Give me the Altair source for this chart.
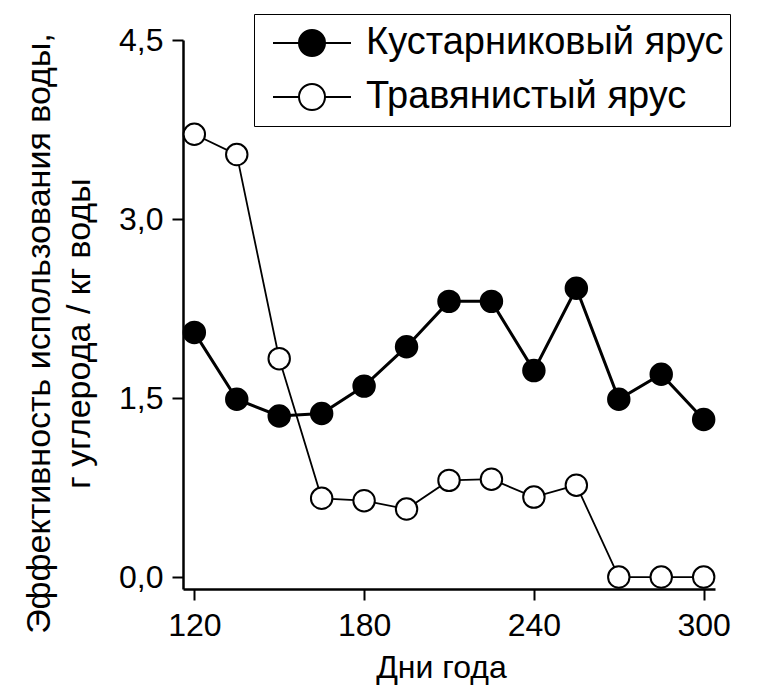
import altair as alt
import pandas as pd

days = [120, 135, 150, 165, 180, 195, 210, 225, 240, 255, 270, 285, 300]
shrub = [2.05, 1.49, 1.35, 1.37, 1.60, 1.93, 2.31, 2.31, 1.73, 2.42, 1.49, 1.70, 1.32]
herb = [3.71, 3.54, 1.83, 0.66, 0.64, 0.57, 0.81, 0.82, 0.67, 0.77, 0.0, 0.0, 0.0]
series_names = ["Кустарниковый ярус", "Травянистый ярус"]
x_ticks = [120, 180, 240, 300]
y_ticks = [0.0, 1.5, 3.0, 4.5]

rows = []
for d, v in zip(days, shrub):
    rows.append({"day": d, "value": v, "series": series_names[0]})
for d, v in zip(days, herb):
    rows.append({"day": d, "value": v, "series": series_names[1]})
df = pd.DataFrame(rows)

FONT = "Liberation Sans"

x_enc = alt.X(
    "day:Q",
    scale=alt.Scale(domain=[116, 304], nice=False, zero=False),
    axis=alt.Axis(
        values=x_ticks, title="Дни года", grid=False,
        tickSize=11, tickWidth=2, domainWidth=2.5, domainColor="black", tickColor="black",
        labelFontSize=32, labelFont=FONT, labelColor="black", labelPadding=10,
        titleFontSize=32, titleFont=FONT, titleFontWeight="normal", titleColor="black",
        titleX=258, titleY=88, titleBaseline="alphabetic",
    ),
)
y_enc = alt.Y(
    "value:Q",
    scale=alt.Scale(domain=[-0.1, 4.5], nice=False, zero=False),
    axis=alt.Axis(
        values=y_ticks, grid=False,
        labelExpr="replace(format(datum.value, '.1f'), '.', ',')",
        title=["Эффективность использования воды,", "г углерода / кг воды"],
        tickSize=11, tickWidth=2, domainWidth=2.5, domainColor="black", tickColor="black",
        labelFontSize=32, labelFont=FONT, labelColor="black", labelPadding=9,
        titleFontSize=34, titleFont=FONT, titleFontWeight="normal", titleColor="black",
        titleLineHeight=40, titleAngle=-90, titleAlign="center", titleBaseline="top",
        titleX=-161, titleY=293, titleLimit=800,
    ),
)

base = alt.Chart(df)

line_shrub = base.transform_filter(alt.datum.series == series_names[0]).mark_line(
    color="black", strokeWidth=3
).encode(x=x_enc, y=y_enc)

line_herb = base.transform_filter(alt.datum.series == series_names[1]).mark_line(
    color="black", strokeWidth=1.8
).encode(x=x_enc, y=y_enc)

sym = ("M-1,0L-0.333,0M0.333,0L1,0M-0.333,0A0.333,0.333,0,1,1,0.333,0"
       "A0.333,0.333,0,1,1,-0.333,0Z")

points = base.mark_point(
    shape="circle", size=460, filled=True, stroke="black", strokeWidth=2, opacity=1
).encode(
    x=x_enc, y=y_enc,
    fill=alt.Fill(
        "series:N",
        scale=alt.Scale(domain=series_names, range=["black", "white"]),
        sort=series_names,
        legend=alt.Legend(
            title=None, orient="none", legendX=71, legendY=-26,
            strokeColor="black", padding=6, fillColor="white",
            symbolType=sym, symbolSize=6084, symbolStrokeColor="black",
            symbolStrokeWidth=2, symbolOpacity=1, symbolOffset=12,
            labelFontSize=38, labelFont=FONT, labelColor="black",
            labelOffset=14, rowPadding=8, clipHeight=46, labelLimit=600,
        ),
    ),
)

chart = alt.layer(line_shrub, line_herb, points).properties(
    width=532, height=549,
    autosize=alt.AutoSizeParams(type="none"),
    padding={"left": 175, "top": 32, "right": 61, "bottom": 103},
    background="white",
).configure_view(stroke=None, strokeWidth=0)

chart.save("out.html", embed_options={"renderer": "svg", "actions": False})
